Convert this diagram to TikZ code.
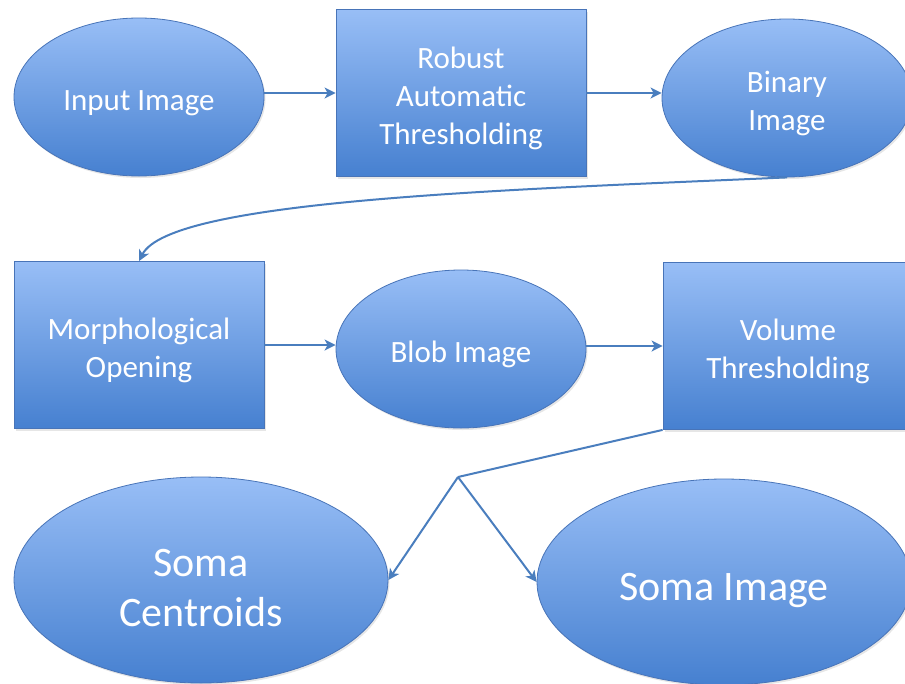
\documentclass[tikz,border=0pt]{standalone}
\usepackage{fontspec}
\setmainfont{Carlito}
\usetikzlibrary{shapes.geometric,shadows,arrows.meta}

\definecolor{boxtop}{RGB}{152,190,246}
\definecolor{boxbot}{RGB}{70,128,208}
\definecolor{boxline}{RGB}{72,116,184}
\definecolor{flow}{RGB}{74,126,190}
\newcommand{\lift}{\rule{0pt}{1.05em}}

\begin{document}
\begin{tikzpicture}[
    x=1pt,y=-1pt,
    stage/.style={draw=boxline,line width=0.8pt,top color=boxtop,bottom color=boxbot,
        text=white,align=center,inner sep=0pt,font=\fontsize{31}{38}\selectfont,
        drop shadow={opacity=0.2,shadow xshift=1.5pt,shadow yshift=-2pt}},
    blob/.style={stage,ellipse,minimum width=250pt,minimum height=158pt},
    stepbox/.style={stage,rectangle,minimum width=250pt,minimum height=167pt},
    bigblob/.style={blob,minimum width=374pt,minimum height=206pt,font=\fontsize{42}{50}\selectfont},
    flowline/.style={->,draw=flow,line width=2pt},
    >={Stealth[length=11pt,width=11pt,inset=3pt]}
]
\useasboundingbox (0,0) rectangle (905,683);
\clip (0,0) rectangle (905,683);

\node[blob] (input) at (139,97) {\lift Input Image};
\node[stepbox] (robust) at (461,93) {\lift Robust\\Automatic\\Thresholding};
\node[blob] (binary) at (787,98) {\lift Binary\\Image};

\node[stepbox] (morph) at (139,345) {\lift Morphological\\Opening};
\node[blob] (blobimg) at (461,349) {\lift Blob Image};
\node[stepbox] (volume) at (788,346) {\lift Volume\\Thresholding};

\node[bigblob] (centroids) at (201,580) {\lift Soma\\Centroids};
\node[bigblob] (somaimg) at (724,582) {\lift Soma Image};

\coordinate (split) at (458,477);

\draw[flowline] (input.east |- robust)--(robust);
\draw[flowline] (robust)--(robust -| binary.west);
\draw[flowline] (binary.south) .. controls (500,190) and (170,200) .. (morph.north);
\draw[flowline] (morph)--(morph -| blobimg.west);
\draw[flowline] (blobimg.east |- volume)--(volume);
\draw[draw=flow,line width=2pt] (volume.south west)--(split);
\draw[flowline] (split)--(centroids.east);
\draw[flowline] (split)--(somaimg.west);
\end{tikzpicture}
\end{document}
